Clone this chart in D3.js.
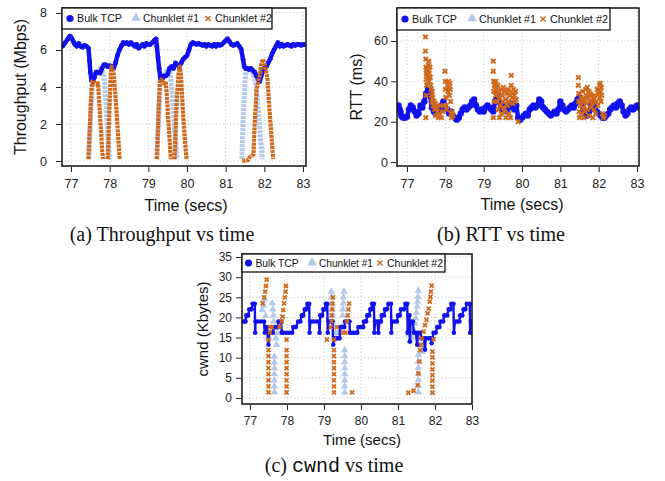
<!DOCTYPE html>
<html>
<head>
<meta charset="utf-8">
<script src="https://cdn.jsdelivr.net/npm/d3@7"></script>
<style>
  body { margin: 0; background: #fff; }
  svg { display: block; font-family: "Liberation Sans", Arial, sans-serif; }
  .grid line { stroke: #c4c4c4; stroke-width: 1; stroke-dasharray: 1,2.5; }
  .tick text { fill: #222; }
  .tick line { stroke: #222; }
  .caption { font-family: "Liberation Serif", "Times New Roman", serif; fill: #111; }
</style>
</head>
<body>
<div class="container"></div>
<script>
const WIDTH = 665;
const HEIGHT = 481;

const BLUE = '#1212ee';
const LIGHT = '#b2c9ea';
const ORANGE = '#d0681b';

const seriesNames = ['Bulk TCP', 'Chunklet #1', 'Chunklet #2'];
const timeTicks = [77, 78, 79, 80, 81, 82, 83];
const tputTicks = [0, 2, 4, 6, 8];
const rttTicks = [0, 20, 40, 60];
const cwndTicks = [0, 5, 10, 15, 20, 25, 30, 35];

// (a) throughput, Mbps
const tputBulk = [
  [76.78,6.2],[76.85,6.4],[76.92,6.6],[76.97,6.75],[77.0,6.7],[77.05,6.5],[77.1,6.3],[77.15,6.2],
  [77.2,6.35],[77.25,6.2],[77.3,6.15],[77.35,6.25],[77.4,6.2],[77.45,6.1],[77.48,5.4],[77.5,4.8],
  [77.53,4.35],[77.57,4.3],[77.6,4.5],[77.65,4.8],[77.7,4.8],[77.75,4.75],[77.8,5.0],[77.85,5.2],
  [77.9,5.2],[77.95,5.1],[78.0,5.15],[78.05,5.1],[78.1,5.0],[78.15,5.3],[78.2,5.7],[78.25,6.0],
  [78.3,6.2],[78.35,6.4],[78.4,6.35],[78.45,6.4],[78.5,6.3],[78.55,6.4],[78.6,6.3],[78.65,6.2],
  [78.7,6.3],[78.75,6.1],[78.8,6.2],[78.85,6.3],[78.9,6.2],[78.95,6.35],[79.0,6.3],[79.05,6.3],
  [79.1,6.4],[79.15,6.5],[79.2,6.6],[79.22,6.2],[79.25,5.6],[79.28,5.0],[79.31,4.5],[79.35,4.4],
  [79.4,4.6],[79.45,4.6],[79.5,4.7],[79.55,5.0],[79.6,5.1],[79.65,5.0],[79.7,5.3],[79.75,5.2],
  [79.8,5.1],[79.85,5.3],[79.9,5.5],[79.95,5.6],[80.0,5.7],[80.05,6.0],[80.1,6.3],[80.15,6.4],
  [80.2,6.35],[80.25,6.3],[80.3,6.35],[80.35,6.3],[80.4,6.25],[80.45,6.3],[80.5,6.2],[80.55,6.3],
  [80.6,6.25],[80.65,6.2],[80.7,6.3],[80.75,6.2],[80.8,6.3],[80.85,6.25],[80.9,6.3],[80.95,6.4],
  [81.0,6.5],[81.05,6.6],[81.1,6.45],[81.15,6.3],[81.2,6.25],[81.25,6.3],[81.3,6.35],[81.35,6.2],
  [81.4,6.05],[81.45,5.5],[81.48,5.1],[81.52,5.0],[81.56,5.0],[81.6,4.95],[81.65,5.0],[81.7,4.9],
  [81.75,4.8],[81.8,4.6],[81.85,4.4],[81.88,4.3],[81.92,4.6],[81.96,4.9],[82.0,5.0],[82.05,5.1],
  [82.1,5.3],[82.15,5.5],[82.2,5.8],[82.25,6.0],[82.3,6.2],[82.35,6.4],[82.4,6.2],[82.45,6.3],
  [82.5,6.2],[82.55,6.25],[82.6,6.3],[82.65,6.25],[82.7,6.2],[82.75,6.3],[82.8,6.25],[82.85,6.3],
  [82.9,6.3],[82.95,6.25],[83.0,6.3],[83.05,6.3]
];
const tputChunk1 = [
  [77.46,0.1],[77.49,1.5],[77.52,3.0],[77.55,4.3],[77.6,4.6],[77.65,4.8],[77.7,4.9],[77.75,5.0],
  [77.8,4.9],[77.85,4.6],[77.88,3.8],[77.92,2.5],[77.96,1.2],[78.0,0.1], null,
  [79.22,0.1],[79.25,1.5],[79.28,3.0],[79.31,4.2],[79.36,4.5],[79.42,4.7],[79.48,4.9],[79.53,5.0],
  [79.57,4.7],[79.61,3.8],[79.65,2.5],[79.7,1.2],[79.75,0.1], null,
  [81.42,0.1],[81.44,1.5],[81.47,3.0],[81.5,4.3],[81.53,4.9],[81.57,5.0],[81.62,4.9],[81.67,4.8],
  [81.72,4.7],[81.77,4.3],[81.82,3.4],[81.86,2.3],[81.9,1.2],[81.95,0.1]
];
const tputChunk2 = [
  [77.45,0.1],[77.47,1.0],[77.49,2.0],[77.51,3.0],[77.53,3.8],[77.55,4.3],[77.58,4.35],[77.62,4.2],
  [77.66,4.15],[77.7,4.2],[77.72,3.5],[77.75,2.5],[77.78,1.5],[77.81,0.5],[77.83,0.1], null,
  [77.95,0.1],[77.97,1.2],[77.99,2.5],[78.01,3.8],[78.03,4.7],[78.05,5.1],[78.08,5.0],[78.11,4.6],
  [78.15,3.5],[78.19,2.3],[78.23,1.0],[78.26,0.1], null,
  [79.22,0.1],[79.24,1.2],[79.26,2.4],[79.28,3.5],[79.3,4.3],[79.33,4.4],[79.37,4.3],[79.41,4.2],
  [79.45,4.3],[79.48,3.5],[79.51,2.4],[79.55,1.2],[79.58,0.1], null,
  [79.68,0.1],[79.7,1.2],[79.72,2.5],[79.75,3.8],[79.78,4.7],[79.81,5.1],[79.84,4.8],[79.87,3.6],
  [79.91,2.2],[79.95,1.0],[79.99,0.1], null,
  [81.43,0.0],[81.5,0.02],[81.58,0.05],[81.62,0.2],[81.68,0.3],[81.72,0.35],[81.74,1.5],[81.77,2.8],
  [81.8,3.8],[81.84,4.3],[81.88,4.6],[81.92,5.2],[81.96,5.5],[82.0,5.3],[82.04,4.9],[82.08,4.5],
  [82.11,3.5],[82.15,2.3],[82.19,1.2],[82.23,0.1]
];

// (b) RTT, ms
const rttBulk = [
  [76.78,28],[76.81,26],[76.83,25],[76.85,23],[76.87,22.5],[76.91,22],[76.95,22],[77.0,22.5],
  [77.05,26],[77.1,28],[77.15,27],[77.2,25],[77.25,23],[77.3,24],[77.35,28],[77.4,27],
  [77.45,30],[77.5,34],[77.55,36],[77.6,33],[77.65,27],[77.7,25],[77.75,24],[77.8,27],
  [77.85,26],[77.9,28],[77.95,30],[78.0,27],[78.05,26],[78.1,24],[78.15,25],[78.2,23],
  [78.25,22],[78.3,21],[78.35,22],[78.4,24],[78.45,26],[78.5,27],[78.55,26],[78.6,27],
  [78.65,28],[78.7,30],[78.75,31],[78.8,28],[78.85,26],[78.9,25],[78.95,26],[79.0,25],
  [79.05,27],[79.1,28],[79.15,27],[79.2,26],[79.25,25],[79.3,30],[79.35,34],[79.4,30],
  [79.45,27],[79.5,26],[79.55,28],[79.6,25],[79.65,27],[79.7,29],[79.75,28],[79.8,26],
  [79.85,28],[79.9,22],[79.95,21],[80.0,22],[80.05,23],[80.1,24],[80.15,23],[80.2,26],
  [80.25,27],[80.3,28],[80.35,27],[80.4,28],[80.45,31],[80.5,30],[80.55,27],[80.6,26],
  [80.65,25],[80.7,24],[80.75,23],[80.8,24],[80.85,25],[80.9,24],[80.95,26],[81.0,30],
  [81.05,28],[81.1,26],[81.15,25],[81.2,26],[81.25,27],[81.3,28],[81.35,27],[81.4,29],
  [81.45,31],[81.5,32],[81.55,30],[81.6,26],[81.65,24],[81.7,23],[81.75,25],[81.8,28],
  [81.85,30],[81.9,28],[81.95,25],[82.0,24],[82.05,23],[82.1,22],[82.15,22],[82.2,23],
  [82.25,24],[82.3,26],[82.35,27],[82.4,28],[82.45,27],[82.5,29],[82.55,30],[82.6,28],
  [82.65,25],[82.7,23],[82.75,24],[82.8,26],[82.85,27],[82.9,26],[82.95,27],[83.0,28],[83.05,27]
];
const rttChunk1 = [
  [77.5,30],[77.55,35],[77.6,38],[77.7,28],[77.9,26],[79.3,30],[79.5,28],[79.6,32],
  [81.5,30],[81.6,28],[81.8,26]
];
const rttChunk2 = [
  [77.48,62],[77.48,55],[77.49,51],[77.49,47],[77.5,44],[77.5,41],[77.5,33],[77.49,22],
  [77.51,38],[77.52,46],[77.53,43],[77.54,40],[77.55,45],[77.56,48],[77.57,50],[77.58,44],
  [77.58,40],[77.6,47],[77.61,42],[77.62,38],[77.63,36],[77.64,33],[77.65,30],[77.66,35],
  [77.67,32],[77.68,28],[77.7,30],[77.72,26],[77.74,29],[77.75,23],[77.77,27],[77.8,25],
  [77.82,22],[77.84,24],[77.87,28],[77.9,22],[77.93,25],[77.96,28],[77.99,45],[78.0,40],
  [78.0,36],[78.01,32],[78.02,28],[78.04,26],[78.06,38],[78.07,35],[78.08,40],[78.1,37],
  [78.11,33],[78.12,39],[78.13,36],[78.14,30],[78.15,24],[78.16,22],[78.18,25],[78.2,23],
  [79.25,50],[79.25,45],[79.26,40],[79.26,35],[79.25,22],[79.27,30],[79.28,38],[79.3,36],
  [79.31,33],[79.32,40],[79.33,37],[79.35,34],[79.36,30],[79.37,38],[79.38,26],[79.4,35],
  [79.41,22],[79.42,32],[79.43,28],[79.45,36],[79.46,24],[79.48,33],[79.5,30],[79.51,37],
  [79.52,27],[79.54,35],[79.55,25],[79.57,31],[79.58,22],[79.6,34],[79.62,28],[79.63,36],
  [79.65,30],[79.66,24],[79.68,33],[79.7,22],[79.72,43],[79.72,38],[79.73,35],[79.75,32],
  [79.76,29],[79.78,36],[79.8,33],[79.81,30],[79.83,35],[79.85,31],[79.9,20],
  [81.47,42],[81.47,38],[81.48,34],[81.48,30],[81.49,25],[81.5,22],[81.52,28],[81.54,32],
  [81.55,24],[81.57,30],[81.58,35],[81.6,27],[81.61,22],[81.63,31],[81.64,25],[81.66,36],
  [81.67,33],[81.68,29],[81.7,37],[81.71,26],[81.72,32],[81.74,35],[81.75,23],[81.77,30],
  [81.78,34],[81.8,27],[81.82,33],[81.83,29],[81.85,22],[81.87,31],[81.88,26],[81.9,33],
  [81.92,24],[81.94,30],[81.96,36],[81.98,28],[82.0,34],[82.02,38],[82.03,32],[82.04,39],
  [82.05,35],[82.06,30],[82.07,37],[82.08,33],[82.1,24],[82.12,22],[82.15,23]
];

// (c) cwnd, Kbytes
const cwndBulk = [
  [76.78,19.0],[76.84,19.0],[76.88,19.0],[76.9,20.5],[76.95,20.5],[76.98,22.0],[77.04,22.0],[77.07,23.4],
  [77.13,23.4],[77.14,16.2],[77.15,19.0],[77.22,19.0],[77.3,19.0],[77.38,19.0],[77.4,16.2],[77.42,17.6],
  [77.46,17.6],[77.5,13.2],[77.52,16.2],[77.58,16.2],[77.62,16.2],[77.64,17.6],[77.7,17.6],[77.75,17.6],
  [77.77,19.0],[77.84,19.0],[77.86,16.2],[77.9,16.2],[77.98,16.2],[78.06,16.2],[78.14,16.2],[78.17,17.6],
  [78.24,17.6],[78.3,19.0],[78.36,19.0],[78.4,20.5],[78.44,20.5],[78.48,22.0],[78.52,22.0],[78.55,23.4],
  [78.6,23.4],[78.61,16.2],[78.63,19.0],[78.7,19.0],[78.78,19.0],[78.86,19.0],[78.88,16.2],[78.9,20.5],
  [78.95,20.5],[78.98,22.0],[79.02,22.0],[79.05,23.4],[79.09,23.4],[79.1,16.2],[79.12,19.0],[79.18,19.0],
  [79.23,19.0],[79.25,13.2],[79.27,14.8],[79.35,14.8],[79.42,14.8],[79.44,17.6],[79.5,17.6],[79.55,17.6],
  [79.57,19.0],[79.65,19.0],[79.69,19.0],[79.7,16.2],[79.75,16.2],[79.8,16.2],[79.87,16.2],[79.9,16.2],
  [79.93,17.6],[80.0,17.6],[80.06,17.6],[80.08,19.0],[80.14,19.0],[80.17,20.5],[80.22,20.5],[80.25,22.0],
  [80.28,22.0],[80.3,23.4],[80.35,23.4],[80.36,16.2],[80.38,19.0],[80.44,19.0],[80.47,16.2],[80.5,19.0],
  [80.54,19.0],[80.56,20.5],[80.62,20.5],[80.65,22.0],[80.7,22.0],[80.74,23.4],[80.81,23.4],[80.82,16.2],
  [80.84,19.0],[80.9,19.0],[80.97,19.0],[81.0,20.5],[81.05,20.5],[81.08,22.0],[81.16,22.0],[81.2,23.4],
  [81.25,23.4],[81.26,16.2],[81.28,20.5],[81.31,20.5],[81.32,14.0],[81.34,19.0],[81.4,19.0],[81.43,16.2],
  [81.48,16.2],[81.52,13.2],[81.54,16.2],[81.6,16.2],[81.64,14.8],[81.7,14.8],[81.73,12.0],[81.75,14.8],
  [81.82,14.8],[81.88,14.8],[81.91,13.6],[81.93,14.8],[81.96,16.2],[82.02,16.2],[82.06,17.6],[82.12,17.6],
  [82.15,19.0],[82.22,19.0],[82.25,20.5],[82.33,20.5],[82.37,22.0],[82.42,22.0],[82.44,23.4],[82.5,23.4],
  [82.51,16.2],[82.54,19.0],[82.6,19.0],[82.66,19.0],[82.68,20.5],[82.74,20.5],[82.77,22.0],[82.82,22.0],
  [82.86,23.4],[82.94,23.4],[82.95,16.2],[82.97,19.0],[83.0,19.0]
];
const cwndChunk1 = [
  [77.33,21.9],[77.37,23.0],[77.4,24.5],[77.42,20.4],[77.47,14.8],[77.52,14.8],[77.6,23.5],[77.62,22.0],
  [77.63,20.5],[77.64,19.0],[77.66,10.3],[77.66,8.8],[77.66,7.4],[77.66,5.9],[77.66,4.4],[77.66,2.9],
  [77.66,1.4],[77.7,14.8],[77.72,13.2],[77.75,16.2],[77.78,17.6],
  [79.2,26.4],[79.21,25.0],[79.22,23.5],[79.22,22.0],[79.23,20.5],[79.24,19.0],[79.26,17.6],[79.3,16.2],
  [79.33,14.8],[79.38,16.2],[79.48,17.6],[79.5,20.5],[79.51,22.0],[79.52,23.5],[79.53,25.0],[79.54,26.4],
  [79.56,11.9],[79.56,10.4],[79.56,8.9],[79.56,7.4],[79.56,5.9],[79.56,4.4],[79.56,2.9],[79.56,1.4],
  [81.28,15.8],[81.33,14.2],[81.38,15.0],[81.42,16.9],[81.46,18.5],[81.48,19.8],[81.5,21.2],[81.52,22.7],
  [81.53,23.9],[81.54,25.1],[81.55,26.6],[81.55,10.7],[81.55,9.1],[81.55,7.5],[81.55,6.0],[81.55,4.5],
  [81.55,3.0],[81.55,1.4],[81.62,13.0],[81.66,11.5]
];
const cwndChunk2 = [
  [77.34,23.5],[77.38,25.0],[77.41,26.4],[77.43,27.8],[77.45,29.4],
  [77.5,14.4],[77.5,11.9],[77.5,10.4],[77.5,8.9],[77.5,7.4],[77.5,5.9],[77.5,4.4],[77.5,2.9],[77.5,1.4],
  [77.54,17.6],[77.54,16.2],[77.59,17.6],
  [77.8,17.7],[77.86,19.0],[77.88,20.2],[77.9,21.8],[77.92,23.5],[77.94,25.0],[77.96,26.4],[77.97,27.8],
  [77.99,14.5],[77.99,11.9],[77.99,10.4],[77.99,8.9],[77.99,7.4],[77.99,5.9],[77.99,4.4],[77.99,2.9],[77.99,1.4],
  [79.08,14.5],[79.18,17.6],[79.2,19.0],[79.21,20.5],[79.22,22.0],[79.23,23.4],[79.24,25.0],
  [79.27,14.5],[79.27,11.9],[79.27,10.4],[79.27,8.9],[79.27,7.4],[79.27,5.9],[79.27,4.4],[79.27,2.9],[79.27,1.4],
  [79.35,17.6],[79.52,16.2],[79.58,16.2],[79.62,19.0],[79.64,20.5],[79.66,22.0],[79.68,23.4],[79.76,1.4],
  [81.28,1.3],[81.42,1.8],[81.53,3.2],[81.55,6.1],[81.58,9.0],[81.6,11.9],[81.62,13.2],[81.64,14.8],
  [81.69,16.5],[81.73,18.1],[81.77,19.4],[81.8,21.0],[81.83,22.2],[81.86,23.9],[81.88,25.1],[81.89,26.4],
  [81.91,27.9],
  [81.93,11.5],[81.93,10.1],[81.93,8.6],[81.93,7.1],[81.93,5.7],[81.93,4.3],[81.93,2.8],[81.93,1.3],[81.96,14.6]
];

var svg = d3.select('.container').append('svg')
  .attr('width', WIDTH)
  .attr('height', HEIGHT);

var Panel = function (id, box, xDomain, yDomain) {
  this.box = box;
  this.x = d3.scaleLinear().domain(xDomain).range([box.left, box.right]);
  this.y = d3.scaleLinear().domain(yDomain).range([box.bottom, box.top]);
  this.g = svg.append('g');
  this.g.append('clipPath').attr('id', id)
    .append('rect')
    .attr('x', box.left).attr('y', box.top)
    .attr('width', box.right - box.left).attr('height', box.bottom - box.top);
  this.marks = this.g.append('g').attr('clip-path', 'url(#' + id + ')');
};

Panel.prototype.grid = function (xTicks, yTicks) {
  var self = this, b = this.box;
  var grid = this.g.insert('g', ':first-child').attr('class', 'grid');
  grid.selectAll('.gx').data(xTicks).enter().append('line')
    .attr('x1', function (d) { return self.x(d); })
    .attr('x2', function (d) { return self.x(d); })
    .attr('y1', b.top).attr('y2', b.bottom);
  grid.selectAll('.gy').data(yTicks).enter().append('line')
    .attr('y1', function (d) { return self.y(d); })
    .attr('y2', function (d) { return self.y(d); })
    .attr('x1', b.left).attr('x2', b.right);
};

Panel.prototype.axes = function (xTicks, yTicks, o) {
  var b = this.box;
  var xAxis = d3.axisBottom(this.x).tickValues(xTicks).tickFormat(d3.format('d'))
    .tickSize(5).tickPadding(o.xPad);
  var yAxis = d3.axisLeft(this.y).tickValues(yTicks).tickFormat(d3.format('d'))
    .tickSize(5).tickPadding(o.yPad);
  var gx = this.g.append('g').attr('transform', 'translate(0,' + (b.bottom + 1) + ')').call(xAxis);
  var gy = this.g.append('g').attr('transform', 'translate(' + (b.left - 1) + ',0)').call(yAxis);
  [gx, gy].forEach(function (a) {
    a.attr('font-family', null).attr('font-size', o.tickFont);
    a.select('.domain').remove();
  });
  this.g.append('text')
    .attr('x', o.xTitle[0]).attr('y', o.xTitle[1])
    .attr('text-anchor', 'middle').attr('font-size', o.titleFont).attr('fill', '#111')
    .text('Time (secs)');
  this.g.append('text')
    .attr('transform', 'translate(' + o.yTitle[0] + ',' + o.yTitle[1] + ') rotate(-90)')
    .attr('text-anchor', 'middle').attr('font-size', o.titleFont).attr('fill', '#111')
    .text(o.yLabel);
};

Panel.prototype.line = function (data, color, width, dash) {
  var self = this;
  var line = d3.line()
    .defined(function (d) { return d !== null; })
    .x(function (d) { return self.x(d[0]); })
    .y(function (d) { return self.y(d[1]); });
  this.marks.append('path')
    .attr('d', line(data))
    .attr('fill', 'none')
    .attr('stroke', color)
    .attr('stroke-width', width)
    .attr('stroke-linejoin', 'round')
    .attr('stroke-dasharray', dash || null);
};

Panel.prototype.dots = function (data, color, r) {
  var self = this;
  this.marks.append('g').selectAll('circle')
    .data(data.filter(function (d) { return d !== null; }))
    .enter().append('circle')
    .attr('cx', function (d) { return self.x(d[0]); })
    .attr('cy', function (d) { return self.y(d[1]); })
    .attr('r', r)
    .attr('fill', color);
};

Panel.prototype.triangles = function (data, color, size) {
  var self = this;
  var sym = d3.symbol().type(d3.symbolTriangle).size(size);
  this.marks.append('g').selectAll('path')
    .data(data.filter(function (d) { return d !== null; }))
    .enter().append('path')
    .attr('d', sym)
    .attr('transform', function (d) { return 'translate(' + self.x(d[0]) + ',' + self.y(d[1]) + ')'; })
    .attr('fill', color);
};

function crossPath(h) {
  return 'M' + -h + ',' + -h + 'L' + h + ',' + h + 'M' + -h + ',' + h + 'L' + h + ',' + -h;
}

Panel.prototype.crosses = function (data, color, h, width) {
  var self = this;
  this.marks.append('g').selectAll('path')
    .data(data.filter(function (d) { return d !== null; }))
    .enter().append('path')
    .attr('d', crossPath(h))
    .attr('transform', function (d) { return 'translate(' + self.x(d[0]) + ',' + self.y(d[1]) + ')'; })
    .attr('stroke', color)
    .attr('stroke-width', width)
    .attr('fill', 'none');
};

Panel.prototype.frame = function () {
  var b = this.box;
  this.g.append('rect')
    .attr('x', b.left).attr('y', b.top)
    .attr('width', b.right - b.left).attr('height', b.bottom - b.top)
    .attr('fill', 'none').attr('stroke', '#111').attr('stroke-width', 1.5);
};

Panel.prototype.legend = function (lg) {
  var g = this.g.append('g').attr('transform', 'translate(' + lg.x + ',' + lg.y + ')');
  g.append('rect')
    .attr('width', lg.w).attr('height', lg.h)
    .attr('fill', '#fff').attr('stroke', '#111').attr('stroke-width', 1.3);
  var cy = lg.h / 2;
  seriesNames.forEach(function (name, i) {
    var mx = lg.items[i];
    if (i === 0) {
      g.append('circle').attr('cx', mx).attr('cy', cy).attr('r', 3.6).attr('fill', BLUE);
    } else if (i === 1) {
      g.append('path').attr('d', d3.symbol().type(d3.symbolTriangle).size(40))
        .attr('transform', 'translate(' + mx + ',' + (cy - 0.5) + ')').attr('fill', LIGHT);
    } else {
      g.append('path').attr('d', crossPath(2.6))
        .attr('transform', 'translate(' + mx + ',' + cy + ')')
        .attr('stroke', ORANGE).attr('stroke-width', 1.4);
    }
    g.append('text')
      .attr('x', mx + 7).attr('y', cy + 3.8)
      .attr('font-size', lg.font).attr('fill', '#111')
      .attr('textLength', lg.lens[i]).attr('lengthAdjust', 'spacingAndGlyphs')
      .text(name);
  });
};

// (a) Throughput vs time
var pa = new Panel('clipA', { left: 62, right: 306, top: 8, bottom: 166 }, [76.767, 83.078], [-0.27, 8.27]);
pa.grid(timeTicks, tputTicks);
pa.line(tputChunk1, LIGHT, 5, '3,1');
pa.line(tputBulk, BLUE, 4.5);
pa.dots(tputBulk, BLUE, 2.4);
pa.line(tputChunk2, ORANGE, 4.2, '3,0.8');
pa.frame();
pa.axes(timeTicks, tputTicks, {
  xPad: 7, yPad: 9, tickFont: 12.5, titleFont: 16,
  xTitle: [186, 211], yTitle: [26, 87], yLabel: 'Throughput (Mbps)'
});
pa.legend({ x: 62, y: 8, w: 210, h: 21, font: 10.5, items: [8, 74, 146], lens: [45, 56, 57] });

// (b) RTT vs time
var pb = new Panel('clipB', { left: 397, right: 639, top: 8, bottom: 166 }, [76.739, 83.052], [-1.98, 76.36]);
pb.grid(timeTicks, rttTicks);
pb.triangles(rttChunk1, LIGHT, 22);
pb.line(rttBulk, BLUE, 4.5);
pb.dots(rttBulk, BLUE, 3.2);
pb.crosses(rttChunk2, ORANGE, 2.2, 2);
pb.frame();
pb.axes(timeTicks, rttTicks, {
  xPad: 7, yPad: 3, tickFont: 12.5, titleFont: 16,
  xTitle: [522, 210], yTitle: [362, 87], yLabel: 'RTT (ms)'
});
pb.legend({ x: 397, y: 8, w: 213, h: 22, font: 10.5, items: [8, 75, 146], lens: [45, 57, 58] });

// (c) cwnd vs time
var pc = new Panel('clipC', { left: 242, right: 472, top: 254, bottom: 404 }, [76.784, 83.0], [-1.49, 35.74]);
pc.grid(timeTicks, cwndTicks);
pc.triangles(cwndChunk1, LIGHT, 24);
pc.line(cwndBulk, BLUE, 2.4);
pc.dots(cwndBulk, BLUE, 2.3);
pc.crosses(cwndChunk2, ORANGE, 2, 1.8);
pc.frame();
pc.axes(timeTicks, cwndTicks, {
  xPad: 6, yPad: 4, tickFont: 12, titleFont: 15,
  xTitle: [362, 445], yTitle: [208, 329], yLabel: 'cwnd (Kbytes)'
});
pc.legend({ x: 242, y: 254, w: 203, h: 18, font: 10, items: [6.5, 70, 138], lens: [43, 54, 56] });

// captions
svg.append('text').attr('class', 'caption')
  .attr('x', 162).attr('y', 241).attr('text-anchor', 'middle').attr('font-size', 20)
  .text('(a) Throughput vs time');
svg.append('text').attr('class', 'caption')
  .attr('x', 501).attr('y', 241).attr('text-anchor', 'middle').attr('font-size', 20)
  .text('(b) RTT vs time');
var capC = svg.append('text').attr('class', 'caption')
  .attr('x', 334).attr('y', 472).attr('text-anchor', 'middle').attr('font-size', 20);
capC.append('tspan').text('(c) ');
capC.append('tspan').attr('font-family', '"Liberation Mono", "Courier New", monospace').text('cwnd');
capC.append('tspan').text(' vs time');
</script>
</body>
</html>
